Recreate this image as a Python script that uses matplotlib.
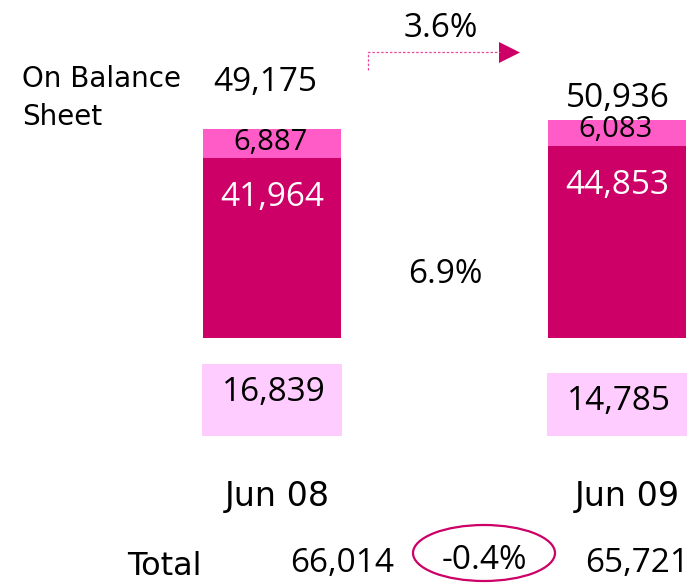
import matplotlib
matplotlib.use("Agg")
import matplotlib.pyplot as plt
from matplotlib.patches import Ellipse, Polygon

plt.rcParams['font.family'] = ['Open Sans', 'DejaVu Sans']
WORD_FONT = ['DejaVu Sans']

# ---- data ----
periods = ["Jun 08", "Jun 09"]
on_balance_core = [41964, 44853]      # dark segment
on_balance_other = [6887, 6083]       # light top segment
on_balance_total = [49175, 50936]
off_balance = [16839, 14785]
totals = [66014, 65721]
growth_on_balance = "3.6%"
growth_core = "6.9%"
growth_total = "-0.4%"

DARK = "#CC0066"
MID = "#FF5CC8"
LIGHT = "#FFCCFF"

W, H = 695, 583
fig = plt.figure(figsize=(W / 100, H / 100), dpi=100)
ax = fig.add_axes([0, 0, 1, 1])
ax.set_axis_off()

# layout: scales (pixels per unit)
xscale = 345.0          # px per category step
x0_px = 272.0           # px of first bar centre
ppu = 4.27 / 1000.0     # px per value unit
base_px = 337.5         # px (from top) of on-balance baseline
off_base_px = 436.0     # px (from top) of off-balance baseline

ax.set_xlim(-x0_px / xscale, (W - x0_px) / xscale)
ax.set_ylim(-(H - base_px) / ppu, base_px / ppu)
off_base = -(off_base_px - base_px) / ppu
bw = 138 / xscale

xs = list(range(len(periods)))
ax.bar(xs, on_balance_core, width=bw, color=DARK, linewidth=0)
ax.bar(xs, on_balance_other, bottom=on_balance_core, width=bw, color=MID, linewidth=0)
ax.bar(xs, off_balance, bottom=off_base, width=bw * 1.02, color=LIGHT, linewidth=0)

FS = 24
px = lambda p: p / ppu   # pixel offset -> data units
for i in xs:
    core = on_balance_core[i]
    oth = on_balance_other[i]
    ax.text(i - 0.005, core + px(8.5), f"{oth:,}", ha="center", va="baseline", fontsize=21, color="black")
    ax.text(i, core - px(48), f"{core:,}", ha="center", va="baseline", fontsize=FS, color="white")
    ax.text(i + 0.005, off_base + off_balance[i] - px(37), f"{off_balance[i]:,}", ha="center",
            va="baseline", fontsize=FS, color="black")

def fpx(x, y):
    return x / W, 1 - y / H

# totals above bars
fig.text(*fpx(265, 91), f"{on_balance_total[0]:,}", ha="center", va="baseline", fontsize=FS)
fig.text(*fpx(618, 107), f"{on_balance_total[1]:,}", ha="center", va="baseline", fontsize=FS)

fig.text(*fpx(22, 87), "On Balance", ha="left", va="baseline", fontsize=20, family=WORD_FONT)
fig.text(*fpx(22, 125), "Sheet", ha="left", va="baseline", fontsize=20, family=WORD_FONT)

# period labels
fig.text(*fpx(277, 506), periods[0], ha="center", va="baseline", fontsize=FS, family=WORD_FONT)
fig.text(*fpx(627, 506), periods[1], ha="center", va="baseline", fontsize=FS, family=WORD_FONT)

# total row
fig.text(*fpx(164.5, 575), "Total", ha="center", va="baseline", fontsize=23, family=WORD_FONT)
fig.text(*fpx(342, 572), f"{totals[0]:,}", ha="center", va="baseline", fontsize=FS)
fig.text(*fpx(637, 572), f"{totals[1]:,}", ha="center", va="baseline", fontsize=FS)
fig.text(*fpx(484.5, 569), growth_total, ha="center", va="baseline", fontsize=FS)

fig.text(*fpx(445, 283), growth_core, ha="center", va="baseline", fontsize=FS)
fig.text(*fpx(441, 37), growth_on_balance, ha="center", va="baseline", fontsize=FS)

# ellipse around total growth (pixel coords via figure transform)
tr = fig.transFigure
ex, ey = fpx(484, 553)
ell = Ellipse((ex, ey), 142 / W, 56 / H, transform=tr, fill=False, edgecolor=DARK, linewidth=1.6)
fig.add_artist(ell)

# dashed arrow
lx = [368 / W, 368 / W, 500 / W]
ly = [1 - 70 / H, 1 - 52 / H, 1 - 52 / H]
fig.add_artist(plt.Line2D(lx, ly, transform=tr, color="#E8499F", linewidth=0.9, linestyle=(0, (2, 1.5))))
tri = Polygon([fpx(499, 42), fpx(499, 63), fpx(520, 52.5)], closed=True, transform=tr,
              facecolor=DARK, edgecolor="none")
fig.add_artist(tri)

fig.savefig("out.png", dpi=100)
